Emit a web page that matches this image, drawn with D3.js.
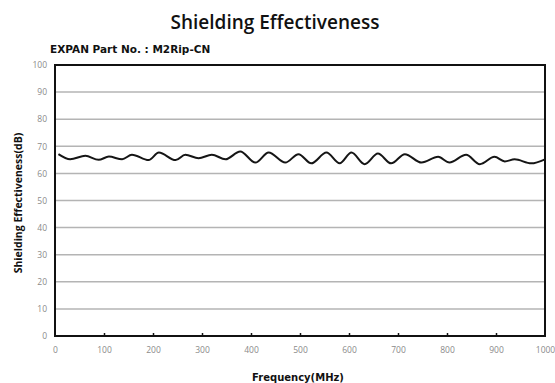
<!DOCTYPE html>
<html>
<head>
<meta charset="utf-8">
<script src="https://cdn.jsdelivr.net/npm/d3@7"></script>
<style>
  body { margin: 0; background: #fff; }
  text { font-family: "Open Sans", "DejaVu Sans", sans-serif; }
</style>
</head>
<body>
<svg id="chart"></svg>
<script>
// frequency (MHz) and shielding effectiveness (dB)
const freq = [7, 31, 62, 89, 110, 137, 157, 191, 212, 246, 266, 293, 320, 348, 378, 409, 436, 470,
  497, 523, 554, 581, 605, 632, 659, 686, 714, 748, 782, 805, 839, 867, 897, 918, 938, 972, 1000];
const se = [67.1, 65.2, 66.5, 65.0, 66.2, 65.2, 66.9, 64.9, 67.7, 64.9, 66.9, 65.6, 66.9, 65.2, 68.1, 64.0, 67.7, 64.0,
  67.1, 63.7, 67.7, 63.7, 67.7, 63.4, 67.3, 63.7, 67.1, 64.0, 66.1, 64.0, 66.9, 63.4, 66.1, 64.4, 65.2, 63.7, 65.2];
const xTicks = [0, 100, 200, 300, 400, 500, 600, 700, 800, 900, 1000];
const yTicks = [0, 10, 20, 30, 40, 50, 60, 70, 80, 90, 100];

const width = 555, height = 383;
const margin = { top: 65, right: 10, bottom: 47, left: 55 };
const plotW = width - margin.left - margin.right;
const plotH = height - margin.top - margin.bottom;

const svg = d3.select("#chart").attr("width", width).attr("height", height);

const xScale = d3.scaleLinear().domain([0, 1000]).range([0, plotW]);
const yScale = d3.scaleLinear().domain([0, 100]).range([plotH, 0]);

const g = svg.append("g").attr("transform", `translate(${margin.left},${margin.top})`);

// grid lines
g.selectAll(".grid")
  .data(yTicks.filter(d => d > 0 && d < 100))
  .enter()
  .append("line")
  .attr("class", "grid")
  .attr("x1", 0).attr("x2", plotW)
  .attr("y1", d => yScale(d)).attr("y2", d => yScale(d))
  .attr("stroke", "#b4b4b4")
  .attr("stroke-width", 1.5);

// y tick labels
const yAxis = d3.axisLeft(yScale).tickValues(yTicks).tickSize(0).tickPadding(8).tickFormat(d3.format("d"));
g.append("g").call(yAxis)
  .call(a => a.select(".domain").remove())
  .selectAll("text")
  .attr("fill", "#8a8a8a")
  .style("font-size", "8.5px");

// x axis with small inner ticks
const xAxis = d3.axisBottom(xScale).tickValues(xTicks).tickSize(0).tickPadding(11).tickFormat(d3.format("d"));
const xg = g.append("g").attr("transform", `translate(0,${plotH})`).call(xAxis);
xg.select(".domain").remove();
xg.selectAll("text").attr("fill", "#8a8a8a").style("font-size", "8.5px");
xg.selectAll(".tick")
  .filter(d => d > 0 && d < 1000)
  .append("line")
  .attr("y1", 0).attr("y2", -3)
  .attr("stroke", "#111")
  .attr("stroke-width", 1.5);

// frame
g.append("rect")
  .attr("x", 0).attr("y", 0)
  .attr("width", plotW).attr("height", plotH)
  .attr("fill", "none")
  .attr("stroke", "#111")
  .attr("stroke-width", 2);

// data line
const pts = freq.map((f, i) => ({ f: f, v: se[i] }));
const line = d3.line()
  .curve(d3.curveMonotoneX)
  .x(d => xScale(d.f))
  .y(d => yScale(d.v));
g.append("path")
  .datum(pts)
  .attr("d", line)
  .attr("fill", "none")
  .attr("stroke", "#151515")
  .attr("stroke-width", 2);

// titles
svg.append("text")
  .attr("x", 275).attr("y", 29)
  .attr("text-anchor", "middle")
  .style("font-size", "19px")
  .style("font-weight", "600")
  .attr("fill", "#111")
  .text("Shielding Effectiveness");

svg.append("text")
  .attr("x", 50).attr("y", 53)
  .style("font-family", "'DejaVu Sans', sans-serif")
  .style("font-size", "10.5px")
  .style("font-weight", "700")
  .attr("fill", "#111")
  .text("EXPAN Part No. : M2Rip-CN");

svg.append("text")
  .attr("x", 298).attr("y", 381)
  .attr("text-anchor", "middle")
  .style("font-family", "'DejaVu Sans', sans-serif")
  .style("font-size", "10px")
  .style("font-weight", "700")
  .attr("fill", "#111")
  .text("Frequency(MHz)");

svg.append("text")
  .attr("transform", `translate(22,203) rotate(-90)`)
  .attr("text-anchor", "middle")
  .style("font-size", "10.5px")
  .style("font-weight", "700")
  .attr("fill", "#111")
  .text("Shielding Effectiveness(dB)");
</script>
</body>
</html>
